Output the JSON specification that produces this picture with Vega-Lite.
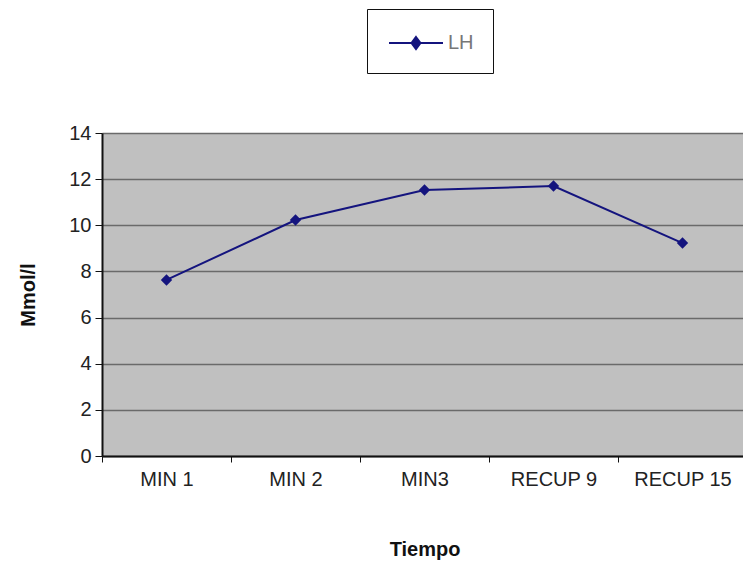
{
  "$schema": "https://vega.github.io/schema/vega-lite/v6.json",
  "autosize": {"type": "none"},
  "width": 645,
  "height": 323,
  "padding": {"left": 102, "top": 133, "right": 0, "bottom": 111},
  "background": "white",
  "config": {
    "font": "Liberation Sans",
    "view": {"fill": "#c0c0c0", "stroke": null}
  },
  "data": {
    "values": [
      {"tiempo": "MIN 1", "valor": 7.63, "serie": "LH"},
      {"tiempo": "MIN 2", "valor": 10.23, "serie": "LH"},
      {"tiempo": "MIN3", "valor": 11.53, "serie": "LH"},
      {"tiempo": "RECUP 9", "valor": 11.7, "serie": "LH"},
      {"tiempo": "RECUP 15", "valor": 9.23, "serie": "LH"}
    ]
  },
  "encoding": {
    "x": {
      "field": "tiempo",
      "type": "nominal",
      "sort": null,
      "scale": {"type": "band", "paddingInner": 0, "paddingOuter": 0},
      "axis": {
        "title": "Tiempo",
        "titleFontSize": 20,
        "titleFontWeight": "bold",
        "titleColor": "#111",
        "titlePadding": 50,
        "labelAngle": 0,
        "labelFontSize": 20,
        "labelColor": "#222",
        "labelPadding": 7,
        "tickBand": "extent",
        "tickColor": "#111",
        "tickSize": 6,
        "domainColor": "#111",
        "domainWidth": 2,
        "grid": false
      }
    },
    "y": {
      "field": "valor",
      "type": "quantitative",
      "scale": {"domain": [0, 14], "nice": false},
      "axis": {
        "title": "Mmol/l",
        "titleFontSize": 20,
        "titleFontWeight": "bold",
        "titleColor": "#111",
        "titlePadding": 30,
        "values": [0, 2, 4, 6, 8, 10, 12, 14],
        "labelFontSize": 20,
        "labelColor": "#222",
        "labelPadding": 4,
        "tickColor": "#111",
        "tickSize": 7,
        "domainColor": "#111",
        "domainWidth": 2,
        "grid": true,
        "gridColor": "#6a6a6a",
        "gridWidth": 1.5
      }
    },
    "color": {
      "field": "serie",
      "type": "nominal",
      "scale": {"range": ["#14147e"]},
      "legend": {
        "title": null,
        "orient": "none",
        "legendX": 265,
        "legendY": -124,
        "strokeColor": "#111",
        "fillColor": "white",
        "padding": 19,
        "symbolOffset": 15,
        "symbolType": "M-1.93,0 L1.93,0 M0,-0.43 L0.32,0 L0,0.43 L-0.32,0 Z",
        "symbolSize": 784,
        "symbolStrokeWidth": 2,
        "symbolFillColor": "#14147e",
        "labelFontSize": 20,
        "labelColor": "#777",
        "labelOffset": 17
      }
    }
  },
  "layer": [
    {"mark": {"type": "line", "strokeWidth": 2}},
    {"mark": {"type": "point", "shape": "diamond", "filled": true, "size": 130, "opacity": 1}}
  ]
}
